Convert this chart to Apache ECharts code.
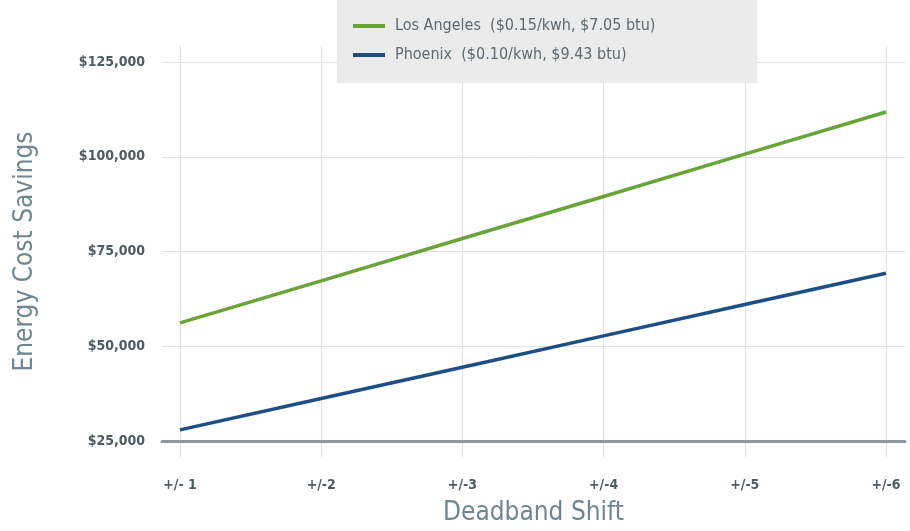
<!DOCTYPE html>
<html>
<head>
<meta charset="utf-8">
<script src="https://cdn.jsdelivr.net/npm/echarts@6/dist/echarts.min.js"></script>
<style>
  html, body { margin: 0; padding: 0; background: #ffffff; }
  #chart { width: 910px; height: 531px; }
</style>
</head>
<body>
<div id="chart"></div>
<script>
// Deadband shift steps shown along the bottom axis
const shifts = ['+/- 1', '+/-2', '+/-3', '+/-4', '+/-5', '+/-6'];

// Annual energy cost savings (USD) for each shift step
const losAngeles = [56700, 67700, 78800, 89800, 100900, 111900];
const phoenix = [28700, 36900, 45100, 53300, 61500, 69700];

// Series names as shown in the legend
const seriesNames = ['Los Angeles  ($0.15/kwh, $7.05 btu)', 'Phoenix  ($0.10/kwh, $9.43 btu)'];

// Savings axis range and step
const yMin = 25000;
const yMax = 125000;
const yStep = 25000;

const FONT = "'Liberation Sans Narrow', 'DejaVu Sans Condensed', 'Roboto', sans-serif";
const GREEN = '#6aa338';
const NAVY = '#1d4f86';
const GRID_LINE = '#e1e3e4';
const TITLE = '#6e8793';
const LABEL = '#4e5b61';

const chart = echarts.init(document.getElementById('chart'), null, { renderer: 'canvas' });

// Pixel scale of the savings axis, so the data grid (which reaches higher
// to give the vertical rules their overhang) shares the same value scale.
const frameTop = 62, frameBottom = 87, dataTop = 45;
const plotH = 531 - frameTop - frameBottom;
const pxPerUnit = plotH / (yMax - yMin);
const dataMax = yMin + (531 - dataTop - frameBottom) / pxPerUnit;

const money = v => '$' + v.toLocaleString('en-US');

chart.setOption({
  animation: false,
  backgroundColor: '#ffffff',
  textStyle: { fontFamily: FONT },
  legend: {
    orient: 'vertical',
    left: 337,
    top: 0,
    padding: [17, 102, 19, 16],
    backgroundColor: '#ebebeb',
    itemWidth: 32,
    itemHeight: 4,
    itemGap: 11,
    icon: 'rect',
    textStyle: { fontFamily: FONT, fontSize: 16, color: '#5d6a71', lineHeight: 18, padding: [0, 0, 0, 5] },
    data: seriesNames
  },
  grid: [
    // frame: horizontal rules, savings labels and the base line
    { left: 162, right: 5, top: frameTop, bottom: frameBottom },
    // data area: one column per shift step
    { left: 180, right: 24, top: dataTop, bottom: frameBottom }
  ],
  xAxis: [
    {
      gridIndex: 0,
      type: 'value',
      min: 0,
      max: 1,
      axisLine: { show: true, onZero: false, lineStyle: { color: '#8f9a9f', width: 3 } },
      axisTick: { show: false },
      axisLabel: { show: false },
      splitLine: { show: false },
      name: 'Deadband Shift',
      nameLocation: 'middle',
      nameGap: 59,
      nameTextStyle: { fontFamily: FONT, fontSize: 26, color: TITLE }
    },
    {
      gridIndex: 1,
      type: 'category',
      data: shifts,
      boundaryGap: false,
      axisLine: { show: false },
      axisTick: { show: true, length: 13, lineStyle: { color: GRID_LINE } },
      axisLabel: { margin: 34, fontFamily: FONT, fontSize: 14, fontWeight: 'bold', color: LABEL },
      splitLine: { show: true, lineStyle: { color: GRID_LINE, width: 1 } }
    }
  ],
  yAxis: [
    {
      gridIndex: 0,
      type: 'value',
      min: yMin,
      max: yMax,
      interval: yStep,
      axisLine: { show: false },
      axisTick: { show: false },
      axisLabel: { margin: 17, formatter: money, fontFamily: FONT, fontSize: 14, fontWeight: 'bold', color: LABEL },
      splitLine: { show: true, lineStyle: { color: GRID_LINE, width: 1 } },
      name: 'Energy Cost Savings',
      nameLocation: 'middle',
      nameGap: 124,
      nameTextStyle: { fontFamily: FONT, fontSize: 26, color: TITLE }
    },
    {
      gridIndex: 1,
      type: 'value',
      min: yMin,
      max: dataMax,
      show: false
    }
  ],
  series: [
    {
      name: seriesNames[0],
      type: 'line',
      xAxisIndex: 1,
      yAxisIndex: 1,
      data: losAngeles,
      showSymbol: false,
      color: GREEN,
      lineStyle: { color: GREEN, width: 3.5 }
    },
    {
      name: seriesNames[1],
      type: 'line',
      xAxisIndex: 1,
      yAxisIndex: 1,
      data: phoenix,
      showSymbol: false,
      color: NAVY,
      lineStyle: { color: NAVY, width: 3.5 }
    }
  ]
});
</script>
</body>
</html>
